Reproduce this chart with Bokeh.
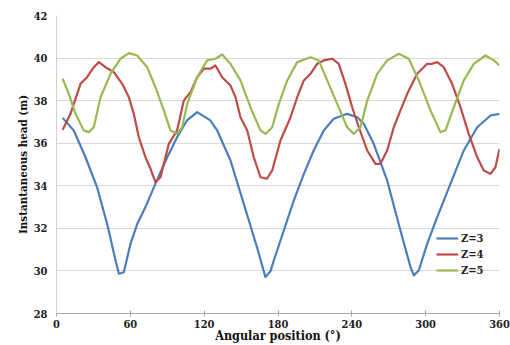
from bokeh.plotting import figure
from bokeh.models import Range1d, FixedTicker, Legend, LegendItem
from bokeh.embed import file_html
from bokeh.resources import INLINE

angle_z3 = [5, 14, 23.6, 33, 41.2, 48, 50.7, 54.7, 60.1, 65.6, 72.3, 80.4, 90, 98, 106, 114.3, 125, 130.6, 141.4, 152.2, 163, 169.8, 174, 176.6, 184.7, 192.8, 201, 209, 217.2, 225.3, 236.2, 244.3, 249.7, 257.8, 268.7, 279.5, 287.7, 290.4, 294.4, 301.2, 309.3, 320.2, 331, 341.9, 352.7, 360]
head_z3 = [37.19, 36.6, 35.34, 33.93, 32.2, 30.49, 29.87, 29.94, 31.27, 32.2, 33.0, 34.1, 35.34, 36.28, 37.07, 37.46, 37.07, 36.6, 35.19, 33.15, 31.1, 29.71, 30.0, 30.49, 31.9, 33.3, 34.56, 35.66, 36.6, 37.15, 37.38, 37.22, 36.91, 35.97, 34.25, 31.9, 30.18, 29.79, 30.02, 31.27, 32.52, 34.1, 35.66, 36.75, 37.3, 37.38]

angle_z4 = [5, 11.4, 19.5, 24.9, 30.3, 34.4, 39.8, 46.6, 53.4, 58.8, 62.8, 66.9, 72.3, 76.4, 80.4, 84.5, 87.2, 91.3, 98, 103.4, 108.9, 114.3, 119.7, 125.1, 129.2, 134.6, 141.4, 145.5, 149.5, 155, 160.3, 165.8, 171, 175.3, 182, 190.2, 195.6, 201, 206.4, 211.8, 217.2, 224, 229.4, 234.8, 240.3, 245.7, 252.5, 259.2, 263.3, 268.7, 274.1, 279.5, 285, 293.1, 301.2, 305.3, 309.3, 314.7, 321.5, 328.3, 335, 341.9, 347.2, 352.7, 356.7, 360]
head_z4 = [36.63, 37.38, 38.79, 39.1, 39.57, 39.81, 39.57, 39.34, 38.79, 38.16, 37.38, 36.28, 35.34, 34.8, 34.17, 34.4, 35.03, 35.97, 36.6, 38.0, 38.4, 39.1, 39.5, 39.5, 39.65, 39.1, 38.71, 38.16, 37.22, 36.6, 35.34, 34.4, 34.33, 34.72, 36.13, 37.22, 38.16, 38.95, 39.26, 39.73, 39.89, 39.97, 39.73, 38.79, 37.69, 36.75, 35.66, 35.03, 35.03, 35.66, 36.75, 37.54, 38.32, 39.26, 39.73, 39.73, 39.81, 39.57, 38.79, 37.69, 36.44, 35.34, 34.72, 34.56, 34.87, 35.73]

angle_z5 = [5, 10, 15.4, 22.2, 26.2, 30.3, 35.8, 43.9, 52, 58.8, 65.6, 73.7, 80.4, 87.2, 92.6, 98, 102.1, 106.2, 114.3, 122.4, 129.2, 134.6, 141.4, 149.5, 157.6, 165.8, 170, 175.3, 180.7, 187.5, 195.6, 206.4, 213.1, 220, 228.1, 236.2, 241.6, 247, 252.5, 260.6, 268.7, 278.2, 286.3, 294.4, 303.9, 312, 316.1, 322.9, 331, 339.1, 348.6, 355.4, 360]
head_z5 = [39.03, 38.32, 37.38, 36.6, 36.52, 36.75, 38.16, 39.26, 39.97, 40.23, 40.12, 39.57, 38.63, 37.54, 36.6, 36.44, 36.75, 37.85, 39.1, 39.89, 39.97, 40.17, 39.73, 38.95, 37.69, 36.6, 36.44, 36.75, 37.85, 38.95, 39.81, 40.04, 39.89, 38.95, 37.85, 36.75, 36.44, 36.75, 38.0, 39.26, 39.89, 40.2, 39.97, 38.95, 37.54, 36.52, 36.6, 37.69, 38.95, 39.73, 40.12, 39.89, 39.65]

series_names = ["Z=3", "Z=4", "Z=5"]
series_colors = ["#4a7ebb", "#be4b48", "#98b954"]
x_ticks = [0, 60, 120, 180, 240, 300, 360]
y_ticks = [28, 30, 32, 34, 36, 38, 40, 42]

FONT = "DejaVu Serif Condensed"

p = figure(width=510, height=345, output_backend="svg", toolbar_location=None,
           x_range=Range1d(0, 360), y_range=Range1d(28, 42),
           min_border_left=56, min_border_right=11, min_border_top=15, min_border_bottom=32)
p.outline_line_color = None
p.background_fill_color = "white"
p.border_fill_color = "white"

p.xgrid.grid_line_color = None
p.ygrid.grid_line_color = "#d9d9d9"
p.ygrid.grid_line_width = 1

p.xaxis.ticker = FixedTicker(ticks=x_ticks)
p.yaxis.ticker = FixedTicker(ticks=y_ticks)
for ax in (p.xaxis[0], p.yaxis[0]):
    ax.minor_tick_line_color = None
    ax.major_label_text_font = FONT
    ax.major_label_text_font_style = "bold"
    ax.major_label_text_font_size = "11px"
    ax.major_label_text_color = "#222222"
    ax.axis_label_text_font = FONT
    ax.axis_label_text_font_style = "bold"
    ax.axis_label_text_color = "#111111"

p.xaxis.axis_label_text_font_size = "12.5px"
p.yaxis.axis_label_text_font_size = "11.5px"

p.xaxis.axis_line_color = "#a6a6a6"
p.xaxis.major_tick_line_color = "#a6a6a6"
p.xaxis.major_tick_in = 3
p.xaxis.major_tick_out = 3
p.xaxis.major_label_standoff = 3
p.xaxis.axis_label = "Angular position (°)"
p.xaxis.axis_label_standoff = -3

p.yaxis.axis_line_color = "#d0d0d0"
p.yaxis.major_tick_line_color = None
p.yaxis.major_tick_out = 0
p.yaxis.major_tick_in = 0
p.yaxis.major_label_standoff = 9
p.yaxis.axis_label = "Instantaneous head (m)"
p.yaxis.axis_label_standoff = 1

renderers = []
for xs, ys, c in zip([angle_z3, angle_z4, angle_z5], [head_z3, head_z4, head_z5], series_colors):
    r = p.line(xs, ys, line_color=c, line_width=2.2, line_join="round")
    renderers.append(r)

legend = Legend(items=[LegendItem(label=n, renderers=[r]) for n, r in zip(series_names, renderers)],
                location=(378, 34))
legend.background_fill_alpha = 0
legend.border_line_alpha = 0
legend.label_text_font = FONT
legend.label_text_font_style = "bold"
legend.label_text_font_size = "11px"
legend.label_text_color = "#222222"
legend.glyph_width = 22
legend.glyph_height = 14
legend.label_height = 14
legend.spacing = 2
legend.padding = 2
legend.margin = 0
legend.label_standoff = 3
p.add_layout(legend)

open("out.html", "w").write(file_html(p, INLINE))
